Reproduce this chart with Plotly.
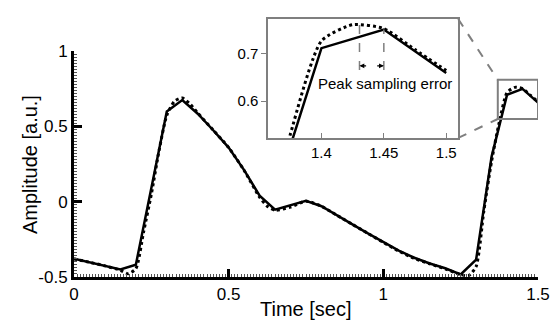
import plotly.graph_objects as go

# Sampled signal (every 0.05 s)
t_sampled = [0.0, 0.05, 0.10, 0.15, 0.20, 0.25, 0.30, 0.35, 0.40, 0.45, 0.50, 0.55,
             0.60, 0.65, 0.70, 0.75, 0.80, 0.85, 0.90, 0.95, 1.00, 1.05, 1.10, 1.15,
             1.20, 1.25, 1.30, 1.35, 1.40, 1.45, 1.50]
amp_sampled = [-0.378, -0.402, -0.426, -0.450, -0.418, 0.09, 0.600, 0.676, 0.585, 0.475,
               0.360, 0.210, 0.040, -0.052, -0.022, 0.006, -0.030, -0.088, -0.150, -0.210,
               -0.268, -0.325, -0.372, -0.410, -0.442, -0.483, -0.384, 0.300, 0.711, 0.750,
               0.659]

# Underlying continuous signal
t_true = [0.0, 0.05, 0.10, 0.15, 0.175, 0.20, 0.225, 0.25, 0.275, 0.30, 0.325, 0.35,
          0.375, 0.40, 0.45, 0.50, 0.55, 0.60, 0.625, 0.65, 0.70, 0.75, 0.80, 0.85,
          0.90, 0.95, 1.00, 1.05, 1.10, 1.15, 1.20, 1.25, 1.275, 1.30, 1.325, 1.35,
          1.375, 1.40, 1.425, 1.45, 1.475, 1.50]
amp_true = [-0.380, -0.402, -0.426, -0.455, -0.478, -0.445, -0.200, 0.050, 0.340, 0.575,
            0.668, 0.690, 0.650, 0.590, 0.476, 0.360, 0.208, 0.030, -0.030, -0.056,
            -0.035, 0.004, -0.030, -0.090, -0.150, -0.210, -0.270, -0.328, -0.376,
            -0.412, -0.446, -0.484, -0.492, -0.430, -0.060, 0.270, 0.530, 0.726, 0.760,
            0.752, 0.708, 0.664]

# Zoomed window
zoom_x = [1.37, 1.50]
zoom_y = [0.55, 0.81]
inset_xrange = [1.3575, 1.5096]
inset_yrange = [0.523, 0.772]
peak_true_t = 1.4305
peak_sampled_t = 1.45

FONT = "Arial, Liberation Sans, sans-serif"
GRAY = "#7f7f7f"

fig = go.Figure()

line_solid = dict(color="black", width=2.5)
line_dot = dict(color="black", width=3, dash="dot", shape="spline", smoothing=0.6)

fig.add_trace(go.Scatter(x=t_true, y=amp_true, mode="lines", line=line_dot,
                         xaxis="x", yaxis="y", showlegend=False))
fig.add_trace(go.Scatter(x=t_sampled, y=amp_sampled, mode="lines", line=line_solid,
                         xaxis="x", yaxis="y", showlegend=False))
fig.add_trace(go.Scatter(x=t_true, y=amp_true, mode="lines", line=line_dot,
                         xaxis="x2", yaxis="y2", showlegend=False))
fig.add_trace(go.Scatter(x=t_sampled, y=amp_sampled, mode="lines", line=line_solid,
                         xaxis="x2", yaxis="y2", showlegend=False))

main_ydom = [0.0, 0.875]
inset_xdom = [0.419, 0.828]
inset_ydom = [0.539, 1.0]

fig.update_layout(
    width=560, height=322,
    margin=dict(l=74, r=21, t=10, b=45),
    paper_bgcolor="white", plot_bgcolor="white",
    font=dict(family=FONT, color="black"),
    xaxis=dict(domain=[0, 1], range=[0, 1.5], tickvals=[0, 0.5, 1, 1.5],
               ticktext=["0", "0.5", "1", "1.5"], ticks="inside", ticklen=8, tickwidth=2.5,
               tickcolor="black", showline=True, linecolor="black", linewidth=3,
               showgrid=False, zeroline=False, tickfont=dict(size=17),
               minor=dict(dtick=0.01, ticks="inside", ticklen=3, tickwidth=1, tickcolor="#555555"),
               anchor="y"),
    yaxis=dict(domain=main_ydom, range=[-0.5, 1], tickvals=[-0.5, 0, 0.5, 1],
               ticktext=["-0.5", "0", "0.5", "1"], ticks="inside", ticklen=8, tickwidth=2.5,
               tickcolor="black", showline=True, linecolor="black", linewidth=3,
               showgrid=False, zeroline=False, tickfont=dict(size=17),
               minor=dict(dtick=0.02, ticks="inside", ticklen=3, tickwidth=1, tickcolor="#555555"),
               anchor="x"),
    xaxis2=dict(domain=inset_xdom, range=inset_xrange, tickvals=[1.4, 1.45, 1.5],
                ticktext=["1.4", "1.45", "1.5"], ticks="inside", ticklen=5, tickwidth=1,
                tickcolor=GRAY, showline=True, mirror=True, linecolor=GRAY, linewidth=2,
                showgrid=False, zeroline=False, tickfont=dict(size=15), anchor="y2"),
    yaxis2=dict(domain=inset_ydom, range=inset_yrange, tickvals=[0.6, 0.7],
                ticktext=["0.6", "0.7"], ticks="outside", ticklen=5, tickwidth=1,
                tickcolor=GRAY, showline=True, mirror=True, linecolor=GRAY, linewidth=2,
                showgrid=False, zeroline=False, tickfont=dict(size=15), anchor="x2"),
)

# Axis titles
fig.add_annotation(text="Time [sec]", xref="paper", yref="paper", x=0.5, y=-0.125,
                   xanchor="center", yanchor="middle", showarrow=False, font=dict(size=20))
fig.add_annotation(text="Amplitude [a.u.]", xref="paper", yref="paper", x=-0.095, y=main_ydom[1] / 2,
                   xanchor="center", yanchor="middle", textangle=-90, showarrow=False,
                   font=dict(size=20))

# Box marking the zoomed window on the main axes
fig.add_shape(type="rect", xref="x", yref="y", x0=zoom_x[0], x1=zoom_x[1], y0=zoom_y[0], y1=zoom_y[1],
              line=dict(color=GRAY, width=2))


def to_paper(xv, yv):
    px = (xv - 0) / 1.5
    py = main_ydom[0] + (yv + 0.5) / 1.5 * (main_ydom[1] - main_ydom[0])
    return px, py


bx, by_top = to_paper(zoom_x[0], zoom_y[1])
_, by_bot = to_paper(zoom_x[0], zoom_y[0])
fig.add_shape(type="line", xref="paper", yref="paper", x0=inset_xdom[1], y0=inset_ydom[1],
              x1=bx, y1=by_top, line=dict(color=GRAY, width=2, dash="dash"))
fig.add_shape(type="line", xref="paper", yref="paper", x0=inset_xdom[1], y0=inset_ydom[0],
              x1=bx, y1=by_bot, line=dict(color=GRAY, width=2, dash="dash"))

# Peak markers in the inset
fig.add_shape(type="line", xref="x2", yref="y2", x0=peak_true_t, x1=peak_true_t, y0=0.665, y1=0.761,
              line=dict(color=GRAY, width=1.5, dash="dash"))
fig.add_shape(type="line", xref="x2", yref="y2", x0=peak_sampled_t, x1=peak_sampled_t, y0=0.665, y1=0.750,
              line=dict(color=GRAY, width=1.5, dash="dash"))
fig.add_annotation(xref="x2", yref="y2", axref="x2", ayref="y2", x=peak_true_t, y=0.674,
                   ax=peak_true_t + 0.0065, ay=0.674, text="", showarrow=True,
                   arrowhead=2, arrowsize=0.8, arrowwidth=1.2, arrowcolor="black")
fig.add_annotation(xref="x2", yref="y2", axref="x2", ayref="y2", x=peak_sampled_t, y=0.674,
                   ax=peak_sampled_t - 0.0065, ay=0.674, text="", showarrow=True,
                   arrowhead=2, arrowsize=0.8, arrowwidth=1.2, arrowcolor="black")
fig.add_annotation(text="Peak sampling error", xref="x2", yref="y2", x=1.451, y=0.637,
                   xanchor="center", yanchor="middle", showarrow=False, font=dict(size=15))

fig.write_html("out.html")
